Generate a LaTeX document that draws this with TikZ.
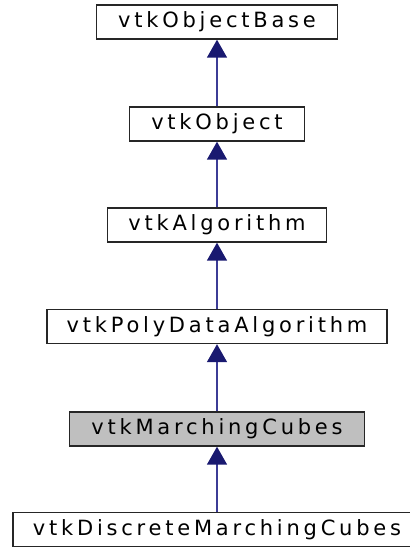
\documentclass[tikz,border=0pt]{standalone}
\usepackage{fontspec}
\setmainfont[LetterSpace=18]{DejaVu Sans}
\usetikzlibrary{arrows.meta}
\definecolor{edgeblue}{HTML}{191970}
\definecolor{linkblue}{HTML}{3C3C96}
\definecolor{selgray}{HTML}{BFBFBF}
\tikzset{
  cls/.style={draw=black!85, line width=1.4pt, fill=white, minimum height=34pt,
    inner sep=0pt, font=\fontsize{21pt}{25pt}\selectfont, anchor=center},
  inherit/.style={draw=linkblue, line width=1.5pt,
    -{Triangle[length=18pt,width=20pt,fill=edgeblue,color=edgeblue]}}
}
\begin{document}
\begin{tikzpicture}[x=1pt,y=-1pt]
\useasboundingbox (0,0) rectangle (410,550);
\node[cls, minimum width=241pt] (base) at (217,22) {vtkObjectBase};
\node[cls, minimum width=175pt] (obj) at (217,124) {vtkObject};
\node[cls, minimum width=219pt] (alg) at (217,225) {vtkAlgorithm};
\node[cls, minimum width=340pt] (pda) at (217,326.5) {vtkPolyDataAlgorithm};
\node[cls, minimum width=295pt, fill=selgray] (mc) at (217,429) {vtkMarchingCubes};
\node[cls, minimum width=408pt] (dmc) at (217,529.5) {vtkDiscreteMarchingCubes};
\draw[inherit] (obj) -- (base);
\draw[inherit] (alg) -- (obj);
\draw[inherit] (pda) -- (alg);
\draw[inherit] (mc) -- (pda);
\draw[inherit] (dmc) -- (mc);
\end{tikzpicture}
\end{document}
